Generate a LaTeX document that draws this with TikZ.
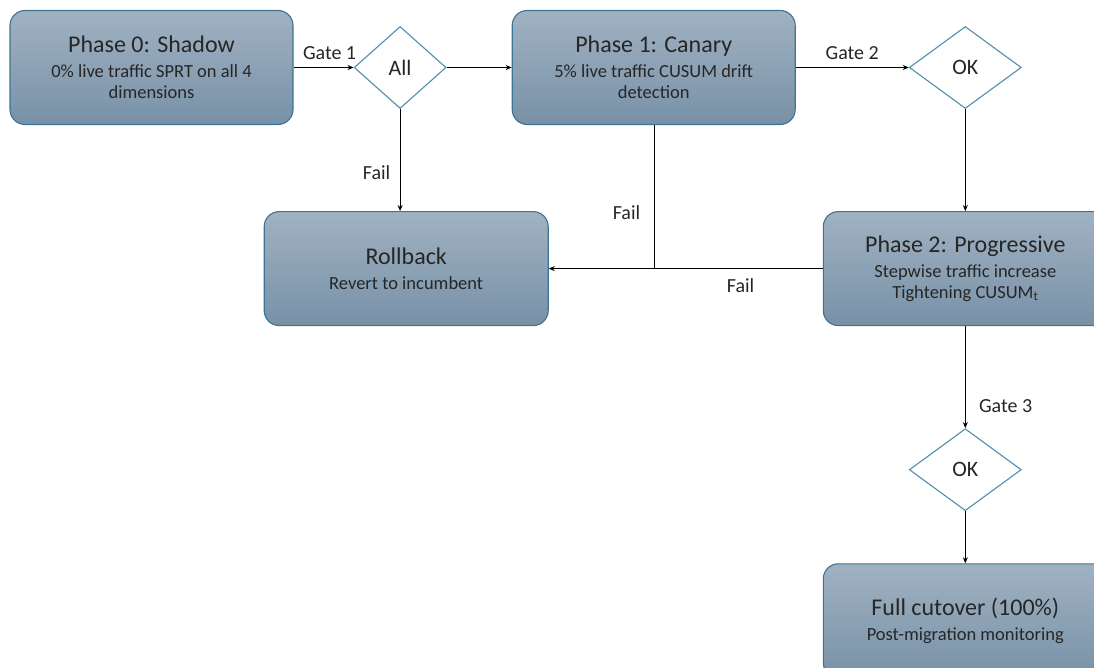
\documentclass[tikz,border=0pt]{standalone}
\usepackage{fontspec}
\setmainfont{Carlito}
\usepackage{tikz}
\usetikzlibrary{arrows.meta,positioning,shapes.geometric}
\usepackage{xcolor}
\definecolor{boxtop}{HTML}{A0B2C2}
\definecolor{boxbot}{HTML}{7891A7}
\definecolor{boxedge}{HTML}{3D7494}
\definecolor{gateedge}{HTML}{4F8FAD}
\definecolor{txt}{HTML}{262626}

\newcommand{\subtxt}{\fontsize{18.5}{21}\selectfont}

\begin{document}
\begin{tikzpicture}[
    x=1pt, y=1pt,
    phase/.style={draw=boxedge, line width=1.1pt, rounded corners=15pt, top color=boxtop, bottom color=boxbot,
                  minimum width=283pt, minimum height=114pt, align=center, text=txt, inner sep=2pt,
                  font=\fontsize{24}{21}\selectfont},
    gate/.style={diamond, draw=gateedge, line width=1.1pt, fill=white, minimum width=100pt, minimum height=82pt,
                 inner sep=0pt, font=\fontsize{22}{24}\selectfont, text=txt},
    arr/.style={-{Stealth[length=6pt, width=5pt]}, line width=0.9pt},
    lbl/.style={font=\fontsize{20}{22}\selectfont, text=txt},
]
\useasboundingbox (0,0) rectangle (1094,-668);

% Top row
\node[phase] (p0) at (151.5,-67.5) {Phase 0: Shadow\\[4pt]\subtxt 0\% live traffic SPRT on all 4\\\subtxt dimensions};
\node[gate, minimum width=92pt, right=60pt of p0] (all) {All};
\node[phase, right=65pt of all] (p1) {Phase 1: Canary\\[4pt]\subtxt 5\% live traffic CUSUM drift\\\subtxt detection};
\node[gate, minimum width=112pt, right=113pt of p1] (ok1) {OK};

% Middle row
\node[phase, minimum width=284pt, below=102pt of ok1] (p2) {Phase 2: Progressive\\[4pt]\subtxt Stepwise traffic increase\\\subtxt Tightening CUSUM\textsubscript{t}};
\node[phase, minimum width=284pt, left=274pt of p2] (rollback) {Rollback\\[4pt]\subtxt Revert to incumbent};

% Bottom
\node[gate, minimum width=112pt, below=102pt of p2] (ok2) {OK};
\node[phase, minimum width=284pt, below=52pt of ok2] (full) {Full cutover (100\%)\\[4pt]\subtxt Post-migration monitoring};

% Arrows
\draw[arr] (p0) -- node[lbl, above=4pt, pos=0.6] {Gate 1} (all);
\draw[arr] (all) -- (p1);
\draw[arr] (p1) -- node[lbl, above=4pt] {Gate 2} (ok1);
\draw[arr] (all.south) -- node[lbl, left=6pt, pos=0.62] {Fail} (all.south |- rollback.north);
\draw[arr] (ok1) -- (p2);
\draw (p1.south) -- node[lbl, left=10pt, pos=0.61] {Fail} (p1.south |- rollback.east);
\draw[arr] (p2) -- node[lbl, below=6pt, pos=0.3] {Fail} (rollback);
\draw[arr] (p2) -- node[lbl, right=10pt, pos=0.78] {Gate 3} (ok2);
\draw[arr] (ok2) -- (full);
\end{tikzpicture}
\end{document}
